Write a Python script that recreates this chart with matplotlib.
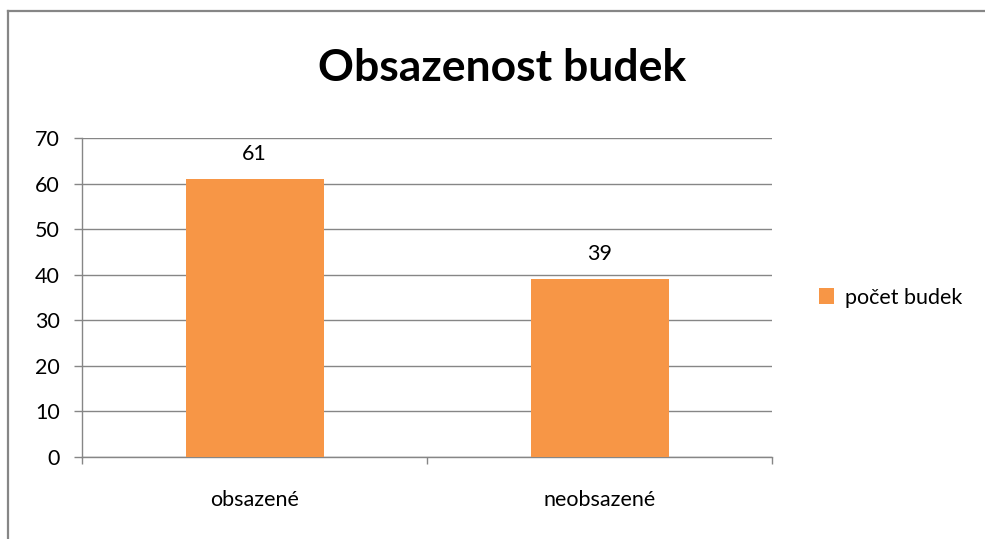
import matplotlib.pyplot as plt
from matplotlib.lines import Line2D

kategorie = ['obsazené', 'neobsazené']
pocet_budek = [61, 39]
yticks = [0, 10, 20, 30, 40, 50, 60, 70]

plt.rcParams['font.family'] = ['Lato', 'DejaVu Sans']

seda = '#868686'
oranzova = '#F79646'

fig = plt.figure(figsize=(9.85, 5.39), dpi=100)
ax = fig.add_axes([82/985, 1-457/539, 690/985, 319/539])

x = list(range(len(kategorie)))
bars = ax.bar(x, pocet_budek, width=0.4, color=oranzova, label='počet budek', zorder=3)
for xi, v in zip(x, pocet_budek):
    ax.annotate(str(v), (xi, v), xytext=(0, 11), textcoords='offset points',
                ha='center', va='bottom', fontsize=15.5)

ax.set_xlim(-0.5, len(kategorie) - 0.5)
ax.set_ylim(0, 70)
ax.set_yticks(yticks)
ax.set_yticklabels([str(t) for t in yticks], fontsize=15.5)
ax.yaxis.grid(True, color=seda, linewidth=1, zorder=0)
ax.set_xticks(x)
ax.set_xticklabels(kategorie, fontsize=15.5)
ax.tick_params(axis='x', length=0, pad=24)
ax.tick_params(axis='y', length=6, color=seda, width=1, pad=10)
# hranice kategorii
ax.set_xticks([-0.5, 0.5, 1.5], minor=True)
ax.tick_params(axis='x', which='minor', length=5, color=seda, width=1)
for s in ['top', 'right']:
    ax.spines[s].set_visible(False)
for s in ['left', 'bottom']:
    ax.spines[s].set_color(seda)
    ax.spines[s].set_linewidth(1)

fig.text(0.51, 1-68/539, 'Obsazenost budek', ha='center', va='center',
         fontsize=32, fontweight='bold')

ax.legend(loc='center left', bbox_to_anchor=(1.04, 0.5), frameon=False,
          fontsize=15.5, handlelength=0.7, handleheight=0.7, handletextpad=0.5)

# ramecek grafu
fig.add_artist(Line2D([8/985, 1], [1-11/539, 1-11/539], color=seda, linewidth=1.6))
fig.add_artist(Line2D([8/985, 8/985], [0, 1-11/539], color=seda, linewidth=1.6))

fig.savefig('out.png', dpi=100)
